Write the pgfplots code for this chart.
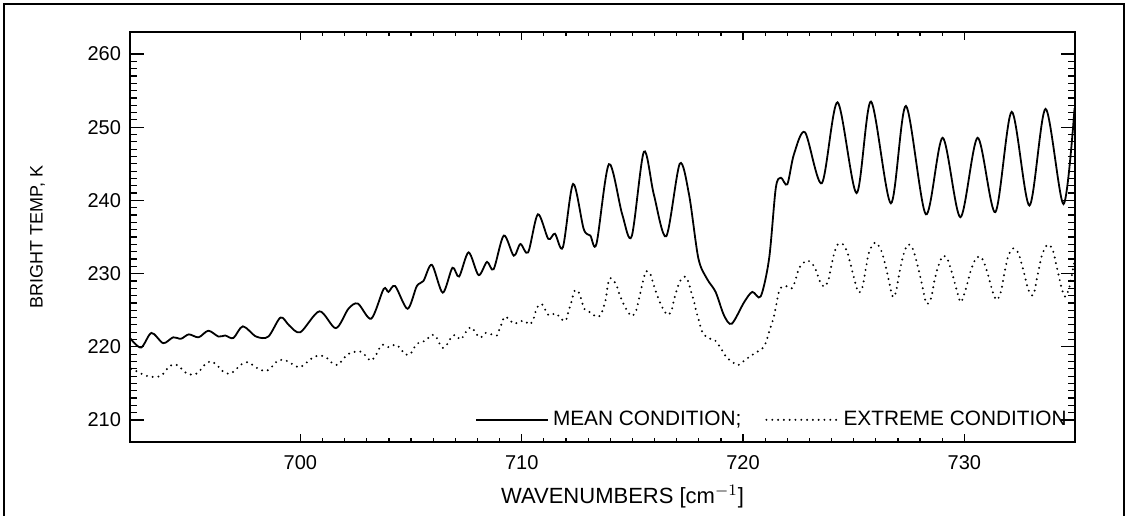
\documentclass[border=0pt]{standalone}
\usepackage{fontspec}
\setmainfont{Liberation Sans}
\usepackage{pgfplots}
\pgfplotsset{compat=1.18}

\pgfplotstableread{
x y
692.30 221.2
692.80 219.9
693.27 221.9
693.80 220.5
694.25 221.3
694.60 221.1
694.96 221.7
695.40 221.3
695.84 222.2
696.30 221.4
696.60 221.55
696.97 221.2
697.40 222.8
698.00 221.4
698.55 221.4
699.10 224.0
699.50 222.9
700.00 222.0
700.86 224.85
701.60 222.55
702.17 225.2
702.60 225.9
703.20 223.85
703.76 227.9
703.98 227.5
704.28 228.3
704.84 225.2
705.26 228.3
705.56 229.0
705.94 231.2
706.43 227.4
706.87 230.8
707.17 229.6
707.60 232.9
708.05 229.8
708.43 231.6
708.73 230.6
709.19 235.2
709.64 232.45
709.94 234.05
710.29 232.9
710.73 238.1
711.20 234.75
711.50 235.45
711.86 233.6
712.32 242.25
712.80 236.1
713.10 235.2
713.38 234.1
713.94 244.95
714.54 238.1
714.97 235.1
715.52 246.65
715.97 240.8
716.53 235.1
717.14 245.0
717.56 240.8
717.98 232.1
718.38 229.25
718.76 227.5
719.14 224.3
719.49 223.15
720.05 226.1
720.42 227.5
720.80 226.9
721.18 232.1
721.48 241.7
721.71 243.1
722.00 242.2
722.30 246.3
722.80 249.3
723.56 242.35
724.27 253.4
725.13 241.0
725.78 253.5
726.68 239.6
727.36 252.9
728.26 238.1
729.02 248.55
729.82 237.7
730.60 248.55
731.40 238.4
732.14 252.1
732.94 239.3
733.67 252.5
734.48 239.5
734.98 252.6
}\meancond

\pgfplotstableread{
x y
692.35 217.0
692.64 216.6
692.97 216.1
693.30 215.9
693.68 216.0
693.88 216.6
694.10 217.4
694.40 217.55
694.66 216.9
694.90 216.3
695.26 216.25
695.50 216.9
695.72 217.7
695.99 218.0
696.26 217.4
696.48 216.7
696.80 216.3
697.07 216.85
697.30 217.55
697.60 217.9
697.90 217.4
698.18 216.85
698.50 216.75
698.75 217.4
698.97 218.1
699.30 218.2
699.60 217.7
699.95 217.2
700.24 217.75
700.48 218.35
700.81 218.8
701.15 218.6
701.39 217.9
701.67 217.5
701.87 218.1
702.10 218.9
702.40 219.3
702.73 219.35
702.97 218.7
703.18 218.1
703.40 218.8
703.53 219.6
703.71 220.3
703.98 219.95
704.31 220.3
704.54 219.7
704.74 218.95
704.98 219.05
705.13 219.85
705.34 220.55
705.67 220.85
705.87 221.55
706.10 221.55
706.24 220.7
706.43 219.85
706.62 220.3
706.77 221.1
706.98 221.65
707.23 221.0
707.42 221.75
707.57 222.45
707.75 222.65
707.90 221.95
708.13 221.25
708.36 221.9
708.63 221.7
708.88 221.55
708.99 222.4
709.11 223.3
709.22 224.1
709.41 223.85
709.64 223.15
709.86 223.4
710.12 223.55
710.36 223.05
710.54 223.85
710.62 224.75
710.74 225.6
710.92 225.8
711.07 225.0
711.22 224.3
711.55 224.55
711.76 223.85
711.98 223.55
712.08 224.45
712.16 225.3
712.25 226.2
712.32 227.05
712.40 227.7
712.55 227.6
712.66 226.8
712.73 226.05
712.85 225.1
713.10 224.7
713.38 224.1
713.56 224.3
713.66 225.1
713.76 226.0
713.82 226.95
713.90 228.65
714.01 229.4
714.19 228.9
714.31 228.2
714.39 227.4
714.57 226.05
714.77 224.9
714.97 224.2
715.15 224.8
715.26 226.05
715.37 227.5
715.49 229.1
715.62 230.35
715.82 229.9
715.94 228.65
716.10 227.2
716.30 225.7
716.46 224.8
716.62 224.35
716.77 225.0
716.88 226.4
717.03 228.0
717.18 229.1
717.38 229.6
717.53 228.9
717.63 227.75
717.78 226.25
717.89 224.8
718.00 223.65
718.15 222.1
718.38 221.25
718.73 220.9
718.91 220.2
719.06 219.5
719.24 218.6
719.49 218.0
719.77 217.5
720.05 218.1
720.27 218.6
720.57 219.2
720.85 219.7
721.03 220.55
721.13 221.55
721.25 222.7
721.37 223.85
721.50 225.7
721.60 227.3
721.72 228.1
721.95 228.3
722.20 228.0
722.35 228.9
722.50 230.5
722.66 231.3
722.92 231.8
723.14 231.3
723.32 230.3
723.44 229.15
723.67 228.2
723.86 229.15
723.97 230.75
724.12 232.8
724.27 233.95
724.50 234.05
724.70 233.0
724.85 231.4
724.98 229.8
725.13 228.1
725.25 227.4
725.40 228.2
725.55 230.7
725.70 233.0
725.97 234.25
726.23 233.25
726.43 231.2
726.58 229.15
726.76 226.85
726.91 227.5
727.09 230.5
727.29 233.0
727.48 234.0
727.69 233.25
727.96 230.2
728.12 228.0
728.29 225.9
728.49 226.6
728.64 228.9
728.79 230.7
729.02 232.4
729.24 231.95
729.47 229.8
729.70 227.25
729.85 226.1
730.07 227.95
730.30 230.5
730.55 232.2
730.80 232.1
731.05 230.05
731.28 227.5
731.46 226.4
731.65 227.5
731.85 230.7
732.00 232.55
732.21 233.45
732.44 232.8
732.68 230.3
732.90 227.75
733.12 227.1
733.31 229.8
733.51 232.55
733.76 233.95
733.99 233.25
734.22 230.3
734.42 227.75
734.57 226.85
734.75 228.2
734.93 230.95
735.00 232.0
}\extremecond

\begin{document}
\begin{tikzpicture}
\useasboundingbox (0,0) rectangle (564pt,257.5pt);
% outer frame
\draw[line width=1.2pt] (2pt,-5pt) -- (2pt,255.5pt) -- (562pt,255.5pt) -- (562pt,-5pt);

% main axis: data, x ticks, legend
\begin{axis}[
  at={(65pt,36.5pt)}, anchor=south west,
  scale only axis, width=472.5pt, height=205pt,
  xmin=692.3, xmax=735.0, ymin=207, ymax=263,
  xtick={700,710,720,730}, minor x tick num=9,
  ytick=\empty,
  major tick length=4pt, minor tick length=2pt,
  axis line style={line width=0.9pt},
  every tick/.style={black, line width=0.6pt},
  /pgf/number format/assume math mode=true,
  /pgf/number format/1000 sep={},
  xticklabel style={font=\fontsize{10}{11}\selectfont, yshift=-3pt},
  xlabel={WAVENUMBERS [cm$^{-1}$]},
  xlabel style={font=\fontsize{11}{12}\selectfont, xshift=10pt, yshift=-1pt},
  legend columns=2,
  legend style={at={(1,0)}, anchor=south east, xshift=-2pt, yshift=4.5pt,
    draw=none, fill=none, inner sep=0pt,
    font=\fontsize{10.4}{12}\selectfont,
    /tikz/every even column/.append style={column sep=10pt}},
  legend image code/.code={\draw[#1] (0pt,0pt) -- (36pt,0pt);},
  clip=true,
]
\addplot[black, line width=0.9pt, smooth, tension=0.5] table[x=x,y=y] {\meancond};
\addlegendentry{MEAN CONDITION;}
\addplot[black, line width=1.1pt, line cap=round, dash pattern=on 0pt off 2.9pt, smooth, tension=0.5] table[x=x,y=y] {\extremecond};
\addlegendentry{EXTREME CONDITION}
\end{axis}

% second axis: y ticks with longer tick length
\begin{axis}[
  at={(65pt,36.5pt)}, anchor=south west,
  scale only axis, width=472.5pt, height=205pt,
  xmin=692.3, xmax=735.0, ymin=207, ymax=263,
  xtick=\empty,
  ytick={210,220,...,260}, minor y tick num=9,
  major tick length=7pt, minor tick length=3.5pt,
  axis line style={draw=none},
  every tick/.style={black, line width=0.6pt},
  /pgf/number format/assume math mode=true,
  yticklabel style={font=\fontsize{10}{11}\selectfont, xshift=-1pt},
  ylabel={BRIGHT TEMP, K},
  ylabel style={font=\fontsize{9}{10}\selectfont, at={(axis description cs:-0.098,0.5)}, anchor=center, rotate=0},
]
\end{axis}
\end{tikzpicture}
\end{document}
